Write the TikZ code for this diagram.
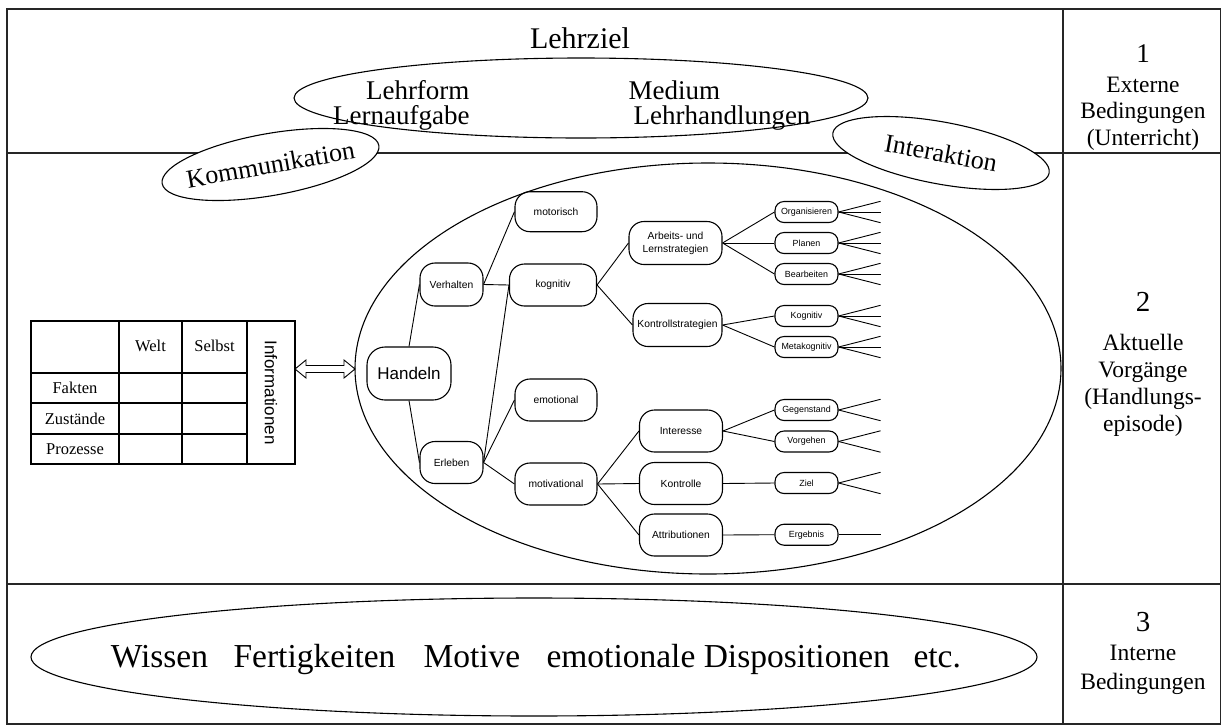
\documentclass[tikz,border=0pt]{standalone}
\usepackage{fontspec}
\setmainfont{Liberation Serif}
\setsansfont{Liberation Sans}
\usetikzlibrary{calc,shapes.geometric}
\newcommand\myfs[1]{\fontsize{#1}{#1}\selectfont}
\begin{document}
\begin{tikzpicture}[x=1pt,y=-1pt,
  frame/.style={draw=black!85,line width=1.3pt},
  oval/.style={draw,ellipse,inner sep=0pt,line width=1.1pt},
  tnode/.style={draw,rounded corners=15pt,line width=1.1pt,inner sep=0pt,font=\sffamily\myfs{10.3}},
  snode/.style={draw,rounded corners=9pt,line width=1.1pt,inner sep=0pt,minimum width=63pt,minimum height=21pt,font=\sffamily\myfs{8.9}},
  edge/.style={line width=0.9pt},
  tcell/.style={font=\myfs{16.5}},
  lbl/.style={font=\myfs{27}},
  side/.style={anchor=base,font=\myfs{23.5}},
  sidenum/.style={anchor=base,font=\myfs{29}},
  bottxt/.style={anchor=base west,font=\myfs{33.5}}
  ]
\useasboundingbox (0,0) rectangle (1221,724);
% frame
\draw[frame] (7,9) rectangle (1221,724);
\draw[frame] (7,153) -- (1221,153);
\draw[frame] (7,584) -- (1221,584);
\draw[frame] (1063,9) -- (1063,724);

% section 1
\node[font=\myfs{30},anchor=base] (lehrziel) at (580,48) {Lehrziel};
\node[oval,minimum width=574pt,minimum height=80pt] (topoval) at (581,98) {};
\node[lbl,anchor=base east] (lehrform) at (473,99) {Lehrform};
\node[lbl,anchor=base east] (lernaufgabe) at (473,124) {Lernaufgabe};
\node[lbl,anchor=base west] (medium) at (625,99) {Medium};
\node[lbl,anchor=base west] (lehrhandl) at (630,124) {Lehrhandlungen};

\node[oval,fill=white,minimum width=220pt,minimum height=62pt,rotate=10] (komm) at (270.5,164.5) {};
\node[font=\myfs{26},rotate=10] (kommtxt) at (komm.center) {Kommunikation};
\node[oval,fill=white,minimum width=220pt,minimum height=62pt,rotate=-10.5] (inter) at (941,153) {};
\node[font=\myfs{26},rotate=-10.5] (intertxt) at (inter.center) {Interaktion};

\node[sidenum,font=\myfs{27}] (s1) at (1143,62) {1};
\node[side] (s1a) at (1143,92) {Externe};
\node[side] (s1b) at (1143,118.5) {Bedingungen};
\node[side] (s1c) at (1143,145) {(Unterricht)};

% section 2 side
\node[sidenum] (s2) at (1143,311.5) {2};
\node[side] (s2a) at (1143,350) {Aktuelle};
\node[side] (s2b) at (1143,377) {Vorgänge};
\node[side] (s2c) at (1143,404) {(Handlungs-};
\node[side] (s2d) at (1143,431) {episode)};

% section 3
\node[oval,minimum width=1006pt,minimum height=118pt] (botoval) at (534,657) {};
\node[bottxt] (w1) at (107.3,667) {Wissen};
\node[bottxt] (w2) at (230,667) {Fertigkeiten};
\node[bottxt] (w3) at (420,667) {Motive};
\node[bottxt] (w4) at (543,667) {emotionale Dispositionen};
\node[bottxt] (w5) at (910,667) {etc.};
\node[sidenum] (s3) at (1143,631.5) {3};
\node[side] (s3a) at (1143,660.5) {Interne};
\node[side] (s3b) at (1143,689.3) {Bedingungen};

% table
\draw[line width=1.2pt] (31,321) rectangle (295,464);
\draw[line width=1.2pt] (119,321) -- (119,464) (182,321) -- (182,464) (247,321) -- (247,464);
\draw[line width=1.2pt] (31,373) -- (247,373) (31,403) -- (247,403) (31,434) -- (247,434);
\node[tcell] (welt) at (150.5,346) {Welt};
\node[tcell] (selbst) at (214.5,346) {Selbst};
\node[tcell] (fakten) at (75,388) {Fakten};
\node[tcell] (zust) at (75,418.5) {Zustände};
\node[tcell] (proz) at (75,449) {Prozesse};
\node[font=\sffamily\myfs{17},rotate=-90] (info) at (271,392.5) {Informationen};

% big oval
\node[oval,minimum width=706pt,minimum height=411pt] (bigoval) at (708,368.5) {};

% double arrow
\coordinate (arrL) at (295,369);
\coordinate (arrR) at (355,369);
\draw[fill=white,line width=0.9pt] (arrL) -- ++(11,-9) -- ++(0,5.5) -- ($(arrR)+(-11,-3.5)$) -- ++(0,-5.5) -- (arrR)
  -- ++(-11,9) -- ++(0,-5.5) -- ($(arrL)+(11,3.5)$) -- ++(0,5.5) -- cycle;

% tree
\node[tnode,minimum width=84pt,minimum height=53pt,rounded corners=18pt,font=\sffamily\myfs{17}] (handeln) at (409,373.5) {Handeln};
\node[tnode,minimum width=63pt,minimum height=43pt] (verhalten) at (451.5,284.5) {Verhalten};
\node[tnode,minimum width=63pt,minimum height=42pt] (erleben) at (451.5,462.5) {Erleben};
\node[tnode,minimum width=82pt,minimum height=40pt] (motorisch) at (556,211.7) {motorisch};
\node[tnode,minimum width=87pt,minimum height=42pt] (kognitiv) at (553,285) {kognitiv};
\node[tnode,minimum width=82pt,minimum height=42pt] (emotional) at (556,400) {emotional};
\node[tnode,minimum width=82pt,minimum height=42pt] (motivational) at (556,484) {motivational};
\node[tnode,minimum width=93pt,minimum height=43pt,align=center,font=\sffamily\fontsize{10.3}{13}\selectfont] (arbeits) at (675.5,243) {Arbeits- und\\Lernstrategien};
\node[tnode,minimum width=89pt,minimum height=43pt] (kontroll) at (677.5,325) {Kontrollstrategien};
\node[tnode,minimum width=83pt,minimum height=42pt] (interesse) at (681,431) {Interesse};
\node[tnode,minimum width=83pt,minimum height=42pt] (kontrolle) at (681,483.5) {Kontrolle};
\node[tnode,minimum width=83pt,minimum height=42pt] (attrib) at (681,535) {Attributionen};
\node[snode] (org) at (806.5,212) {Organisieren};
\node[snode] (plan) at (806.5,243) {Planen};
\node[snode] (bear) at (806.5,274) {Bearbeiten};
\node[snode] (kog) at (806.5,316) {Kognitiv};
\node[snode] (meta) at (806.5,347) {Metakognitiv};
\node[snode] (gegen) at (806.5,410) {Gegenstand};
\node[snode] (vorg) at (806.5,441.5) {Vorgehen};
\node[snode] (ziel) at (806.5,483) {Ziel};
\node[snode] (ergeb) at (806.5,534.7) {Ergebnis};

\draw[edge] (handeln.north) -- (verhalten.west);
\draw[edge] (handeln.south) -- (erleben.west);
\draw[edge] (verhalten.east) -- (motorisch.west);
\draw[edge] (verhalten.east) -- (kognitiv.west);
\draw[edge] (erleben.east) -- (kognitiv.west);
\draw[edge] (erleben.east) -- (emotional.west);
\draw[edge] (erleben.east) -- (motivational.west);
\draw[edge] (kognitiv.east) -- (arbeits.west);
\draw[edge] (kognitiv.east) -- (kontroll.west);
\draw[edge] (arbeits.east) -- (org.west);
\draw[edge] (arbeits.east) -- (plan.west);
\draw[edge] (arbeits.east) -- (bear.west);
\draw[edge] (kontroll.east) -- (kog.west);
\draw[edge] (kontroll.east) -- (meta.west);
\draw[edge] (motivational.east) -- (interesse.west);
\draw[edge] (motivational.east) -- (kontrolle.west);
\draw[edge] (motivational.east) -- (attrib.west);
\draw[edge] (interesse.east) -- (gegen.west);
\draw[edge] (interesse.east) -- (vorg.west);
\draw[edge] (kontrolle.east) -- (ziel.west);
\draw[edge] (attrib.east) -- (ergeb.west);
\foreach \n in {org,plan,bear,kog,meta}{
  \draw[edge] (\n.east) -- ++(42,-10.7);
  \draw[edge] (\n.east) -- ++(42,0);
  \draw[edge] (\n.east) -- ++(42,10.7);
}
\foreach \n in {gegen,vorg,ziel}{
  \draw[edge] (\n.east) -- ++(42,-10.7);
  \draw[edge] (\n.east) -- ++(42,10.7);
}
\draw[edge] (ergeb.east) -- ++(42,0);
\end{tikzpicture}
\end{document}
